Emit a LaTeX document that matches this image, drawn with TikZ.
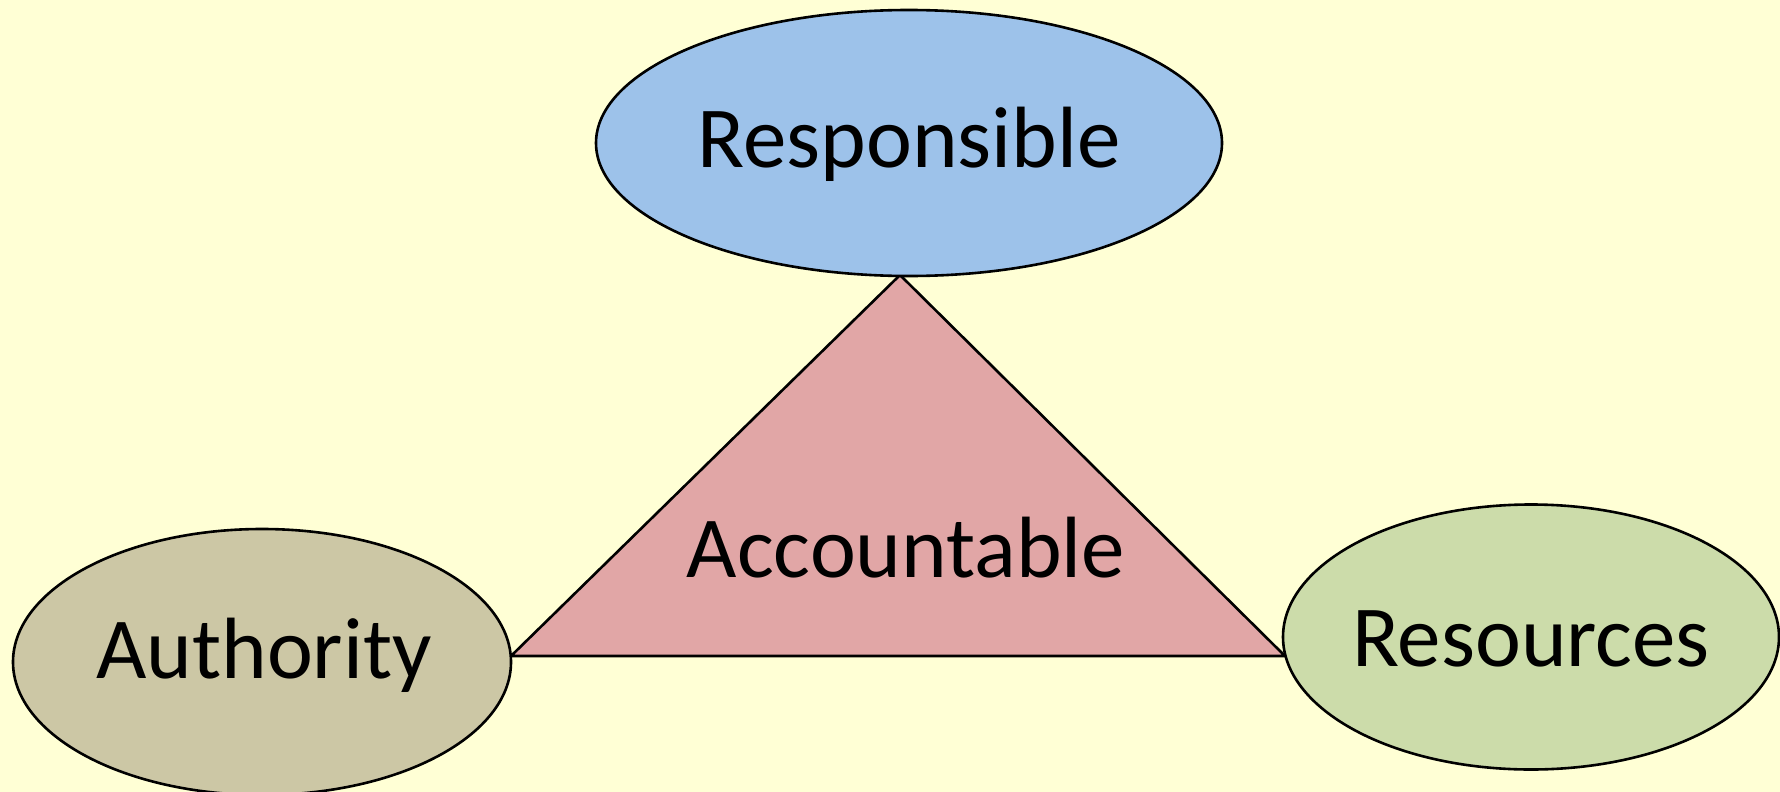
\documentclass[tikz,border=0pt]{standalone}
\usepackage{fontspec}
\setmainfont{Carlito}
\usetikzlibrary{shapes.geometric}
\definecolor{bgyellow}{HTML}{FFFFD5}
\definecolor{respblue}{HTML}{9DC2EA}
\definecolor{authtan}{HTML}{CCC7A5}
\definecolor{resgreen}{HTML}{CCDCAA}
\definecolor{accpink}{HTML}{E1A6A6}
\tikzset{
    bubble/.style={ellipse,draw=black,line width=2.6pt,inner sep=0pt},
    word/.style={inner sep=0pt,font=\fontsize{87}{100}\selectfont,
        text height=55pt,text depth=0pt}
}
\begin{document}
\begin{tikzpicture}[x=1pt,y=-1pt]
            \fill[bgyellow] (0,0) rectangle (1780,792);
            \useasboundingbox (0,0) rectangle (1780,792);

            \coordinate (top) at (900,275);
            \coordinate (left) at (511,656);
            \coordinate (right) at (1285,656);
            \filldraw[fill=accpink,draw=black,line width=2.6pt,line join=miter]
                (top) -- (left) -- (right) -- cycle;
            \node[word] (acc) at (906,550) {Accountable};

            \node[bubble,fill=respblue,minimum width=626pt,minimum height=266pt]
                (resp) at (909,143) {};
            \node[bubble,fill=authtan,minimum width=498pt,minimum height=266pt]
                (auth) at (262,662) {};
            \node[bubble,fill=resgreen,minimum width=496pt,minimum height=265pt]
                (res) at (1531,637) {};

            \node[word] (resptext) at (909,140) {Responsible};
            \node[word] (authtext) at (264,651) {Authority};
            \node[word] (restext) at (1531,639) {Resources};
        \end{tikzpicture}
\end{document}
